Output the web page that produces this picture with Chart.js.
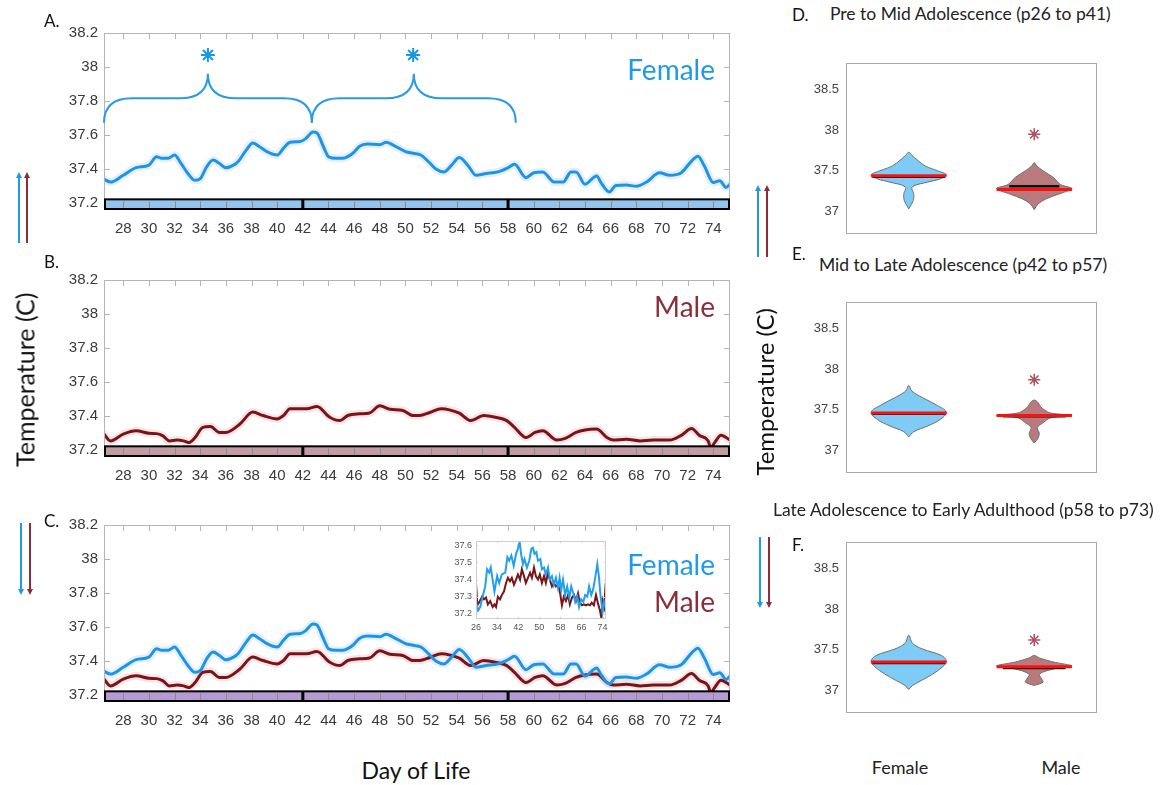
<!DOCTYPE html>
<html>
<head>
<meta charset="utf-8">
<script src="https://cdn.jsdelivr.net/npm/chart.js@4.4.1/dist/chart.umd.min.js"></script>
<style>
  body { margin: 0; background: #fff; }
  #page { position: relative; width: 1172px; height: 785px; overflow: hidden; font-family: Lato, "Open Sans", sans-serif; }
  #page canvas { position: absolute; }
  .lbl { position: absolute; white-space: nowrap; line-height: 1; }
  svg { position: absolute; left: 0; top: 0; }
</style>
</head>
<body>
<div id="page">
  <canvas id="panelA" width="760" height="245" style="left:0;top:0"></canvas>
  <canvas id="panelB" width="760" height="245" style="left:0;top:247px"></canvas>
  <canvas id="panelC" width="760" height="245" style="left:0;top:492px"></canvas>
  <canvas id="inset" width="180" height="110" style="left:440px;top:530px"></canvas>
  <canvas id="violinD" width="340" height="210" style="left:780px;top:40px"></canvas>
  <canvas id="violinE" width="340" height="210" style="left:780px;top:279px"></canvas>
  <canvas id="violinF" width="340" height="210" style="left:780px;top:519px"></canvas>
</div>
<script>
// ---- time course data (day of life, temperature C) ----
const femaleDays = [26.5, 27, 28, 29, 30, 30.6, 31, 31.5, 32, 32.5, 33, 33.6, 34, 34.5, 35, 35.5, 36, 36.6, 37, 37.6,
  38.1, 38.6, 39.2, 40, 40.5, 41, 41.8, 42.2, 42.8, 43.1, 43.6, 44, 44.6, 45.1, 45.9, 46.4, 47, 48, 48.5, 49,
  50, 50.6, 51.2, 51.8, 52.4, 53, 53.6, 54.2, 54.9, 55.5, 56.3, 57.2, 58, 58.5, 59.4, 60, 60.7, 61.6, 62.3, 62.9,
  63.3, 64, 64.9, 65.3, 65.9, 66.4, 67.2, 68, 68.8, 69.8, 70.6, 71.5, 72.3, 72.8, 73.3, 74, 74.5, 75, 75.3];
const femaleTemp = [37.337, 37.32, 37.36, 37.405, 37.42, 37.47, 37.46, 37.46, 37.48, 37.43, 37.375, 37.33, 37.34, 37.41, 37.45, 37.43, 37.405, 37.42, 37.445, 37.51,
  37.55, 37.53, 37.50, 37.48, 37.52, 37.555, 37.56, 37.575, 37.615, 37.61, 37.53, 37.47, 37.46, 37.46, 37.49, 37.53, 37.545, 37.54, 37.555, 37.54,
  37.50, 37.49, 37.48, 37.44, 37.395, 37.38, 37.42, 37.465, 37.415, 37.36, 37.37, 37.38, 37.405, 37.425, 37.346, 37.375, 37.38, 37.32, 37.32, 37.38,
  37.38, 37.307, 37.356, 37.31, 37.262, 37.30, 37.303, 37.295, 37.32, 37.375, 37.36, 37.375, 37.444, 37.473, 37.415, 37.317, 37.327, 37.288, 37.307];
const maleDays = [26.5, 27, 28, 29, 30, 30.6, 31.1, 31.6, 32.2, 32.7, 33.1, 33.6, 34.2, 34.8, 35.5, 36, 37.1, 38.1, 38.9, 40,
  40.5, 41, 41.8, 42.3, 43.1, 44.1, 44.9, 45.5, 46.4, 47.2, 48, 48.8, 49.8, 50.6, 51.1, 51.9, 52.8, 53.5, 54.2, 55.1,
  56.1, 57, 57.9, 58.5, 59.4, 60.1, 60.7, 61.8, 62.4, 63.3, 64, 64.9, 65.7, 66.2, 67.2, 68.3, 69.3, 70.6, 71.5, 72.3,
  72.9, 73.6, 73.8, 74.1, 74.6, 75.3];
const maleTemp = [37.29, 37.25, 37.29, 37.31, 37.295, 37.293, 37.28, 37.25, 37.255, 37.25, 37.24, 37.27, 37.33, 37.335, 37.30, 37.30, 37.35, 37.42, 37.40, 37.38,
  37.40, 37.44, 37.44, 37.44, 37.453, 37.39, 37.37, 37.40, 37.41, 37.415, 37.457, 37.437, 37.43, 37.40, 37.40, 37.418, 37.44, 37.432, 37.414, 37.37,
  37.40, 37.39, 37.37, 37.33, 37.27, 37.30, 37.31, 37.255, 37.263, 37.30, 37.315, 37.32, 37.27, 37.255, 37.26, 37.25, 37.255, 37.255, 37.283, 37.323,
  37.283, 37.25, 37.21, 37.24, 37.283, 37.255];

// raw daily values shown in the inset of panel C
const insetFemaleDays = [26, 26.8, 27.6, 28.5, 29.5, 30.2, 31, 31.6, 32.3, 33, 34, 34.8, 35.8, 37.1, 37.9, 38.6, 39.4, 40.3, 41.2, 41.9,
  42.5, 43.2, 43.8, 44.4, 45.3, 46.2, 47, 47.6, 48.2, 48.9, 49.5, 50.4, 51, 51.8, 52.5, 53.3, 54, 54.8, 55.5, 56.3,
  57.1, 57.7, 58.3, 59, 59.8, 60.6, 61.4, 62.1, 62.9, 63.6, 64.4, 65.1, 65.9, 66.7, 67.4, 68.2, 68.9, 69.7, 70.4, 71.2,
  72, 72.6, 73.2, 74, 74.6, 75.2];
const insetFemaleTemp = [37.27, 37.22, 37.24, 37.30, 37.36, 37.46, 37.44, 37.47, 37.40, 37.33, 37.42, 37.38, 37.43, 37.44, 37.53, 37.51, 37.54, 37.48, 37.55, 37.58,
  37.625, 37.54, 37.49, 37.52, 37.47, 37.51, 37.58, 37.585, 37.55, 37.56, 37.51, 37.52, 37.46, 37.47, 37.43, 37.47, 37.40, 37.42, 37.37, 37.41,
  37.35, 37.41, 37.34, 37.40, 37.31, 37.36, 37.295, 37.36, 37.32, 37.27, 37.30, 37.24, 37.285, 37.27, 37.31, 37.30, 37.36, 37.31, 37.34, 37.41,
  37.49, 37.42, 37.31, 37.21, 37.27, 37.24];
const insetMaleDays = [26, 26.5, 27.3, 28.3, 29, 29.8, 30.5, 31.4, 32.3, 33, 33.6, 34.3, 35.1, 35.8, 36.6, 37.4, 38.1, 38.9, 39.6, 40.4,
  41.2, 41.9, 42.7, 43.4, 44.2, 44.9, 45.7, 46.5, 47.2, 48, 48.7, 49.5, 50.2, 51, 51.8, 52.5, 53.3, 54, 54.8, 55.5,
  56.3, 57.1, 57.8, 58.6, 59.3, 60.1, 60.9, 61.6, 62.4, 63.2, 63.9, 64.7, 65.4, 66.2, 66.9, 67.7, 68.4, 69.2, 69.9, 70.7,
  71.5, 72.2, 73, 73.5, 74, 74.6, 75.2];
const insetMaleTemp = [37.38, 37.25, 37.27, 37.30, 37.285, 37.295, 37.255, 37.275, 37.24, 37.255, 37.24, 37.30, 37.285, 37.31, 37.33, 37.38, 37.41, 37.39, 37.41, 37.37,
  37.40, 37.43, 37.40, 37.46, 37.42, 37.38, 37.41, 37.44, 37.41, 37.47, 37.42, 37.40, 37.43, 37.38, 37.42, 37.38, 37.44, 37.40, 37.36, 37.38,
  37.36, 37.37, 37.33, 37.25, 37.30, 37.275, 37.31, 37.255, 37.295, 37.31, 37.275, 37.32, 37.265, 37.25, 37.255, 37.25, 37.255, 37.25, 37.265, 37.25,
  37.31, 37.265, 37.22, 37.18, 37.275, 37.24, 37.38];
const insetDayTicks = [26, 34, 42, 50, 58, 66, 74];

// epoch bar and significance marks in panel A
const epochEdges = [42, 58];
const barTop = 37.218;
const braceSpans = [[26.5, 42.7], [42.7, 58.6]];
const braceEnd = 37.67, braceFlat = 37.815, bracePeak = 37.96;
const starDays = [34.6, 50.6];
const starTemps = [38.07, 38.07];

// ---- violin data: temperature levels and density half-widths ----
const violinCats = [1, 2]; // Female, Male
const dFemaleLevels = [37.03, 37.13, 37.21, 37.30, 37.36, 37.40, 37.45, 37.50, 37.56, 37.63, 37.69, 37.73];
const dFemaleWidths = [0, 0.035, 0.04, 0.027, 0.15, 0.25, 0.30, 0.23, 0.13, 0.07, 0.025, 0];
const dMaleLevels = [37.02, 37.09, 37.15, 37.21, 37.28, 37.33, 37.42, 37.50, 37.56, 37.60];
const dMaleWidths = [0, 0.03, 0.09, 0.19, 0.30, 0.21, 0.15, 0.07, 0.02, 0];
const eFemaleLevels = [37.165, 37.23, 37.30, 37.38, 37.47, 37.56, 37.65, 37.73, 37.80];
const eFemaleWidths = [0, 0.04, 0.15, 0.25, 0.30, 0.22, 0.11, 0.025, 0];
const eMaleLevels = [37.09, 37.15, 37.21, 37.28, 37.34, 37.40, 37.43, 37.46, 37.50, 37.54, 37.59, 37.62];
const eMaleWidths = [0, 0.03, 0.04, 0.025, 0.07, 0.13, 0.30, 0.13, 0.08, 0.05, 0.03, 0];
const fFemaleLevels = [37.01, 37.06, 37.12, 37.20, 37.29, 37.36, 37.43, 37.51, 37.58, 37.68];
const fFemaleWidths = [0, 0.03, 0.10, 0.19, 0.27, 0.30, 0.26, 0.11, 0.03, 0];
const fMaleLevels = [37.06, 37.10, 37.14, 37.20, 37.27, 37.30, 37.35, 37.40, 37.43];
const fMaleWidths = [0, 0.07, 0.06, 0.04, 0.17, 0.30, 0.15, 0.04, 0];
// [female median, female mean, male median, male mean, male star]
const dStats = [37.44, 37.43, 37.27, 37.31, 37.95];
const eStats = [37.46, 37.455, 37.43, 37.42, 37.87];
const fStats = [37.35, 37.34, 37.29, 37.275, 37.62];

const BLUE = '#1a96e6';
const MAROON = '#7a1418';
const TEXT_MAROON = '#8c2d3c';

const pts = (xs, ys) => xs.map((x, i) => ({ x: x, y: ys[i] }));

const panelDecor = {
  id: 'panelDecor',
  afterDatasetsDraw(chart, args, opts) {
    const { ctx, chartArea: a, scales: { x, y } } = chart;
    ctx.save();
    ctx.strokeStyle = opts.frameColor || '#b0b0b0';
    ctx.lineWidth = 1;
    ctx.strokeRect(a.left + 0.5, a.top + 0.5, a.right - a.left - 1, a.bottom - a.top - 1);
    if (opts.tickLen) {
      ctx.beginPath();
      x.ticks.forEach(t => {
        const px = Math.round(x.getPixelForValue(t.value)) + 0.5;
        ctx.moveTo(px, a.top); ctx.lineTo(px, a.top + opts.tickLen);
        ctx.moveTo(px, a.bottom); ctx.lineTo(px, a.bottom - opts.tickLen);
      });
      y.ticks.forEach(t => {
        const py = Math.round(y.getPixelForValue(t.value)) + 0.5;
        ctx.moveTo(a.right, py); ctx.lineTo(a.right - opts.tickLen, py);
        ctx.moveTo(a.left, py); ctx.lineTo(a.left + opts.tickLen, py);
      });
      ctx.stroke();
    }
    if (opts.barColor) {
      const top = y.getPixelForValue(barTop);
      ctx.fillStyle = opts.barColor;
      ctx.fillRect(a.left, top, a.right - a.left, a.bottom - top);
      ctx.strokeStyle = '#8a8a8a';
      ctx.beginPath();
      x.ticks.forEach(t => {
        const px = Math.round(x.getPixelForValue(t.value)) + 0.5;
        ctx.moveTo(px, a.bottom); ctx.lineTo(px, top + 2);
      });
      ctx.stroke();
      ctx.strokeStyle = '#000';
      ctx.lineWidth = 2;
      ctx.strokeRect(a.left + 1, top, a.right - a.left - 2, a.bottom - top - 1);
      ctx.lineWidth = 3;
      ctx.beginPath();
      epochEdges.forEach(d => {
        const px = x.getPixelForValue(d);
        ctx.moveTo(px, top); ctx.lineTo(px, a.bottom);
      });
      ctx.stroke();
    }
    if (opts.braces) {
      ctx.strokeStyle = '#2a9be3';
      ctx.lineWidth = 2;
      const yEnd = y.getPixelForValue(braceEnd);
      const yFlat = y.getPixelForValue(braceFlat);
      const yPeak = y.getPixelForValue(bracePeak);
      const r = 28;
      braceSpans.forEach(([d0, d1]) => {
        const p0 = x.getPixelForValue(d0), p1 = x.getPixelForValue(d1), pm = (p0 + p1) / 2;
        ctx.beginPath();
        ctx.moveTo(p0, yEnd);
        ctx.quadraticCurveTo(p0, yFlat, p0 + r, yFlat);
        ctx.lineTo(pm - r, yFlat);
        ctx.quadraticCurveTo(pm, yFlat, pm, yPeak);
        ctx.quadraticCurveTo(pm, yFlat, pm + r, yFlat);
        ctx.lineTo(p1 - r, yFlat);
        ctx.quadraticCurveTo(p1, yFlat, p1, yEnd);
        ctx.stroke();
      });
    }
    ctx.restore();
  }
};

const tickFont = { family: 'Liberation Sans, Arial, sans-serif', size: 15 };
const oneDec = v => String(+v.toFixed(1));

function lineSet(data, color, width) {
  return { data: data, borderColor: color, borderWidth: width, pointRadius: 0, fill: false,
    cubicInterpolationMode: 'monotone', borderCapStyle: 'round', borderJoinStyle: 'round' };
}

function makeTimePanel(id, series, barColor, withBraces) {
  const datasets = [];
  if (withBraces) {
    datasets.push({ data: pts(starDays, starTemps), showLine: false, pointStyle: 'star',
      pointRadius: 7, borderColor: BLUE, borderWidth: 2 });
  }
  series.forEach(s => datasets.push(lineSet(s.data, s.color, 3)));
  series.forEach(s => datasets.push(lineSet(s.data, s.band, 8)));
  new Chart(document.getElementById(id), {
    type: 'line',
    data: { datasets: datasets },
    options: {
      responsive: false,
      animation: false,
      events: [],
      layout: { padding: { left: 0, right: 30, top: 33, bottom: 0 } },
      plugins: {
        legend: { display: false },
        tooltip: { enabled: false },
        panelDecor: { barColor: barColor, braces: withBraces, tickLen: 6, frameColor: '#b5b5b5' }
      },
      scales: {
        x: {
          type: 'linear', min: 26.5, max: 75.3,
          grid: { display: false, drawTicks: false }, border: { display: false },
          ticks: { stepSize: 2, includeBounds: false, padding: 10, autoSkip: false, maxRotation: 0,
            color: '#3a3a3a', font: tickFont },
          afterFit: s => { s.height = 35; }
        },
        y: {
          min: 37.155, max: 38.2,
          grid: { display: false, drawTicks: false }, border: { display: false },
          ticks: { stepSize: 0.2, includeBounds: false, padding: 6, color: '#3a3a3a', font: tickFont,
            callback: oneDec },
          afterFit: s => { s.width = 104; }
        }
      }
    },
    plugins: [panelDecor]
  });
}

const femaleSeries = { data: pts(femaleDays, femaleTemp), color: BLUE, band: 'rgba(175,195,248,0.28)' };
const maleSeries = { data: pts(maleDays, maleTemp), color: MAROON, band: 'rgba(225,165,172,0.28)' };

makeTimePanel('panelA', [femaleSeries], '#93c4ec', true);
makeTimePanel('panelB', [maleSeries], '#c39ca3', false);
makeTimePanel('panelC', [femaleSeries, maleSeries], '#b59ad4', false);

// inset with raw daily values
new Chart(document.getElementById('inset'), {
  type: 'line',
  data: {
    datasets: [
      { data: pts(insetFemaleDays, insetFemaleTemp), borderColor: '#22a0ec', borderWidth: 2, pointRadius: 0, tension: 0 },
      { data: pts(insetMaleDays, insetMaleTemp), borderColor: MAROON, borderWidth: 2, pointRadius: 0, tension: 0 }
    ]
  },
  options: {
    responsive: false,
    animation: false,
    events: [],
    layout: { padding: { left: 0, right: 14, top: 11, bottom: 0 } },
    plugins: { legend: { display: false }, tooltip: { enabled: false },
      panelDecor: { tickLen: 2, frameColor: '#cfcfcf' } },
    scales: {
      x: {
        type: 'linear', min: 26, max: 75.3,
        grid: { display: false, drawTicks: false }, border: { display: false },
        afterBuildTicks: s => { s.ticks = insetDayTicks.map(v => ({ value: v })); },
        ticks: { padding: 3, autoSkip: false, maxRotation: 0,
          color: '#555', font: { family: 'Liberation Sans, Arial, sans-serif', size: 9 } },
        afterFit: s => { s.height = 21; }
      },
      y: {
        min: 37.17, max: 37.625,
        grid: { display: false, drawTicks: false }, border: { display: false },
        ticks: { stepSize: 0.1, includeBounds: false, padding: 4, color: '#555',
          font: { family: 'Liberation Sans, Arial, sans-serif', size: 9 }, callback: oneDec },
        afterFit: s => { s.width = 36; }
      }
    }
  },
  plugins: [panelDecor]
});

// ---- violins ----
function violinShape(center, levels, widths) {
  const right = levels.map((t, i) => ({ x: center + widths[i], y: t }));
  const left = [];
  for (let i = levels.length - 2; i >= 0; i--) left.push({ x: center - widths[i], y: levels[i] });
  return right.concat(left);
}

function hLine(center, half, value, color, width) {
  return { data: [{ x: center - half, y: value }, { x: center + half, y: value }],
    borderColor: color, borderWidth: width, pointRadius: 0, fill: false };
}

function makeViolin(id, fLevels, fWidths, mLevels, mWidths, stats, maleMeanHalf) {
  const [fc, mc] = violinCats;
  new Chart(document.getElementById(id), {
    type: 'line',
    data: {
      datasets: [
        hLine(fc, 0.30, stats[0], '#ff1010', 3),
        hLine(mc, 0.30, stats[2], '#ff1010', 3),
        hLine(fc, 0.29, stats[1], '#111', 3),
        hLine(mc, maleMeanHalf, stats[3], '#111', 2.5),
        { data: [{ x: mc, y: stats[4] }], showLine: false, pointStyle: 'star', pointRadius: 6,
          borderColor: '#b0505f', borderWidth: 1.5 },
        { data: violinShape(fc, fLevels, fWidths), fill: 'shape', backgroundColor: '#7ecbf6',
          borderColor: '#6e6e6e', borderWidth: 1, pointRadius: 0, tension: 0.35 },
        { data: violinShape(mc, mLevels, mWidths), fill: 'shape', backgroundColor: '#b87a7c',
          borderColor: '#6e6e6e', borderWidth: 1, pointRadius: 0, tension: 0.35 }
      ]
    },
    options: {
      responsive: false,
      animation: false,
      events: [],
      layout: { padding: { left: 0, right: 23, top: 23, bottom: 16 } },
      plugins: { legend: { display: false }, tooltip: { enabled: false },
        panelDecor: { tickLen: 0, frameColor: '#a8a8a8' } },
      scales: {
        x: { type: 'linear', min: 0.5, max: 2.5, display: false },
        y: {
          min: 36.72, max: 38.83,
          grid: { display: false, drawTicks: false }, border: { display: false },
          ticks: { stepSize: 0.5, includeBounds: false, padding: 7, color: '#444',
            font: { family: 'Liberation Sans, Arial, sans-serif', size: 13 }, callback: v => String(v) },
          afterFit: s => { s.width = 66; }
        }
      }
    },
    plugins: [panelDecor]
  });
}

makeViolin('violinD', dFemaleLevels, dFemaleWidths, dMaleLevels, dMaleWidths, dStats, 0.2);
makeViolin('violinE', eFemaleLevels, eFemaleWidths, eMaleLevels, eMaleWidths, eStats, 0.25);
makeViolin('violinF', fFemaleLevels, fFemaleWidths, fMaleLevels, fMaleWidths, fStats, 0.25);

// ---- text and arrows ----
const page = document.getElementById('page');
function label(text, x, y, size, color, align, rotate) {
  const el = document.createElement('div');
  el.className = 'lbl';
  el.textContent = text;
  el.style.left = x + 'px';
  el.style.top = y + 'px';
  el.style.fontSize = size + 'px';
  el.style.color = color;
  const ax = align === 'right' ? '-100%' : align === 'center' ? '-50%' : '0';
  el.style.transform = 'translate(' + ax + ',-55%)' + (rotate ? ' rotate(-90deg)' : '');
  page.appendChild(el);
}

label('A.', 44, 21, 17, '#111', 'left');
label('B.', 44, 262, 17, '#111', 'left');
label('C.', 44, 521, 17, '#111', 'left');
label('Female', 715, 70, 28, '#1e9be6', 'right');
label('Male', 715, 307, 28, TEXT_MAROON, 'right');
label('Female', 715, 565, 28, '#1e9be6', 'right');
label('Male', 715, 602, 28, TEXT_MAROON, 'right');
label('Day of Life', 416, 772, 23, '#111', 'center');
label('Temperature (C)', 25, 381, 25, '#111', 'center', true);
label('Temperature (C)', 765, 393, 24, '#111', 'center', true);
label('D.', 792, 15, 17, '#111', 'left');
label('Pre to Mid Adolescence (p26 to p41)', 830, 15, 17.5, '#222', 'left');
label('E.', 792, 254, 17, '#111', 'left');
label('Mid to Late Adolescence (p42 to p57)', 819, 266, 17.5, '#222', 'left');
label('Late Adolescence to Early Adulthood (p58 to p73)', 773, 511, 17.5, '#222', 'left');
label('F.', 792, 545, 17, '#111', 'left');
label('Female', 900, 768, 18, '#222', 'center');
label('Male', 1061, 768, 18, '#222', 'center');

const arrows = [
  [19, 243, 172, '#1e9be6'], [27, 243, 172, TEXT_MAROON],
  [21, 523, 595, '#1e9be6'], [30, 523, 595, TEXT_MAROON],
  [758, 257, 185, '#1e9be6'], [767, 257, 185, TEXT_MAROON],
  [760, 537, 608, '#1e9be6'], [769, 537, 608, TEXT_MAROON]
];
let svg = '<svg width="1172" height="785" xmlns="http://www.w3.org/2000/svg">';
arrows.forEach(([x, y0, y1, c]) => {
  const dir = y1 < y0 ? 1 : -1;
  svg += '<line x1="' + x + '" y1="' + y0 + '" x2="' + x + '" y2="' + (y1 + dir * 4) + '" stroke="' + c + '" stroke-width="2"/>';
  svg += '<polygon points="' + (x - 3) + ',' + (y1 + dir * 6) + ' ' + (x + 3) + ',' + (y1 + dir * 6) + ' ' + x + ',' + y1 + '" fill="' + c + '"/>';
});
svg += '</svg>';
page.insertAdjacentHTML('beforeend', svg);
</script>
</body>
</html>
